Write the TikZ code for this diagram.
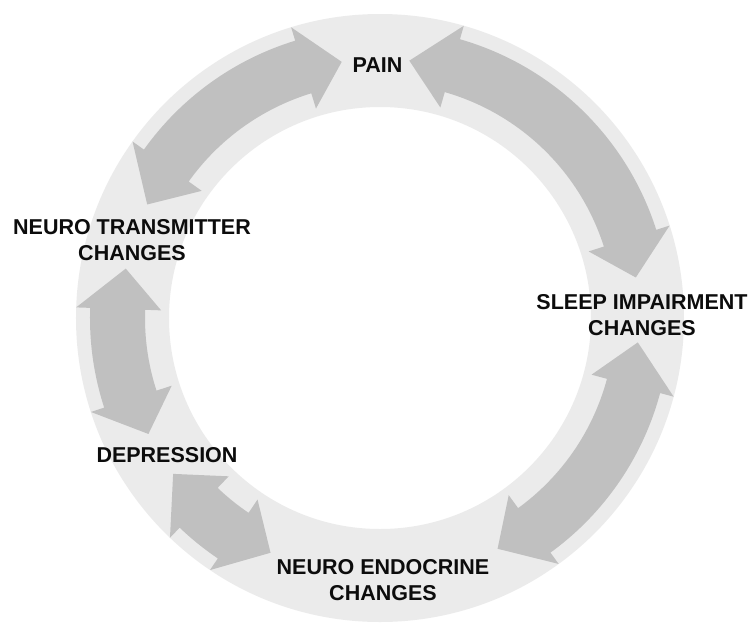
\documentclass[tikz,border=0pt]{standalone}
\usepackage{fontspec}
\setmainfont{Liberation Sans}
\definecolor{ringgray}{RGB}{235,235,235}
\definecolor{arrowgray}{RGB}{192,192,192}
\definecolor{textblack}{RGB}{12,12,12}
% #1 tip angle, #2 first head base, #3 second head base, #4 second tip
\newcommand\cyclearrow[4]{%
  \fill[arrowgray] (#1:259pt) -- (#2:304pt) -- (#2:290pt)
    arc[start angle=#2, end angle=#3, radius=290pt] -- (#3:304pt)
    -- (#4:259pt) -- (#3:219pt) -- (#3:235pt)
    arc[start angle=#3, end angle=#2, radius=235pt] -- (#2:219pt) -- cycle;}
\tikzset{
  lbl/.style={text=textblack, font=\fontsize{21.5}{26}\selectfont\bfseries,
    align=center, inner sep=0pt}
}
\begin{document}
\begin{tikzpicture}
\useasboundingbox (-380pt,-307pt) rectangle (375pt,318pt);
% ring
\fill[ringgray, even odd rule] (0,0) circle (304pt) (0,0) circle (211pt);
% arrows
\cyclearrow{98.5}{107}{144.5}{154}
\cyclearrow{83.5}{74}{17.7}{9}
\cyclearrow{-5.4}{-15}{-54}{-63}
\cyclearrow{-115}{-124}{-133.7}{-143}
\cyclearrow{169}{178}{198}{206.6}
% labels
\node[lbl] (pain) at (-2.5pt,253pt) {PAIN};
\node[lbl] (sleep) at (262pt,3pt) {SLEEP IMPAIRMENT\\CHANGES};
\node[lbl] (endo) at (3pt,-262pt) {NEURO ENDOCRINE\\CHANGES};
\node[lbl] (dep) at (-213pt,-137pt) {DEPRESSION};
\node[lbl] (trans) at (-248pt,78pt) {NEURO TRANSMITTER\\CHANGES};
\end{tikzpicture}
\end{document}
